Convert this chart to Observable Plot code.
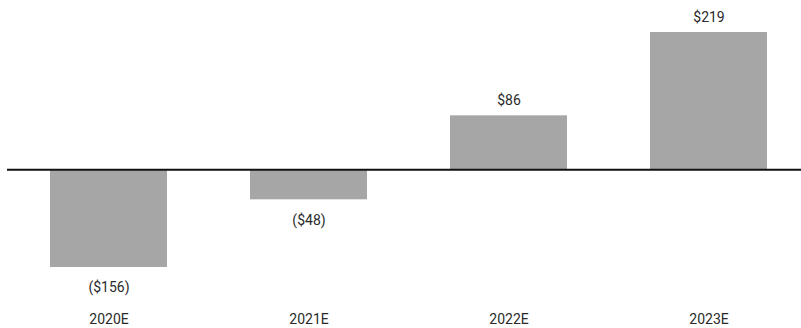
<!DOCTYPE html>
<html>
<head>
<meta charset="utf-8">
<script src="https://cdn.jsdelivr.net/npm/d3@7"></script>
<script src="https://cdn.jsdelivr.net/npm/@observablehq/plot@0.6"></script>
<style>
  html, body { margin: 0; padding: 0; background: #fff; }
  #chart svg { display: block; }
</style>
</head>
<body>
<div id="chart"></div>
<script>
const categories = ["2020E", "2021E", "2022E", "2023E"];
const values = [-156, -48, 86, 219];
const valueLabels = ["($156)", "($48)", "$86", "$219"];

const data = categories.map((c, i) => ({cat: c, value: values[i], label: valueLabels[i]}));

const chart = Plot.plot({
  width: 801,
  height: 328,
  marginLeft: 7,
  marginRight: 0,
  marginTop: 0,
  marginBottom: 18,
  style: {fontFamily: "Roboto, 'DejaVu Sans', sans-serif", fontSize: "14px", color: "#2a2a2a", background: "#fff"},
  x: {domain: categories, range: [49, 768], paddingInner: 0.417, paddingOuter: 0, label: null},
  y: {domain: [-156, 219], range: [267, 32], axis: null},
  marks: [
    Plot.barY(data, {x: "cat", y: "value", fill: "#a6a6a6"}),
    Plot.ruleY([0], {stroke: "#111", strokeWidth: 2}),
    Plot.text(data.filter(d => d.value >= 0), {x: "cat", y: "value", text: "label", lineAnchor: "bottom", dy: -11, fontSize: 14, fill: "#2a2a2a"}),
    Plot.text(data.filter(d => d.value < 0), {x: "cat", y: "value", text: "label", lineAnchor: "top", dy: 15, fontSize: 14, fill: "#2a2a2a"}),
    Plot.axisX({tickSize: 0, tickPadding: 4, fontSize: 14, label: null, color: "#2a2a2a"})
  ]
});
document.getElementById("chart").appendChild(chart);
</script>
</body>
</html>
